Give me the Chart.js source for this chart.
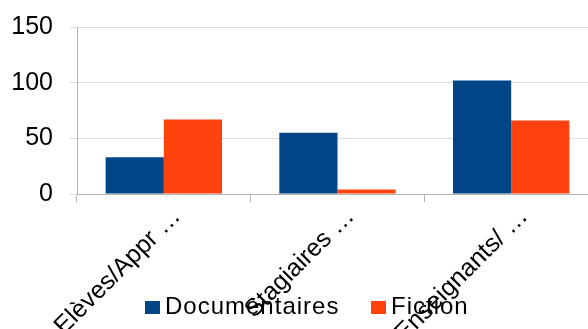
<!DOCTYPE html>
<html>
<head>
<meta charset="utf-8">
<script src="https://cdn.jsdelivr.net/npm/chart.js@4"></script>
<style>
  body { margin: 0; overflow: hidden; background: #fff; }
  #wrap { position: relative; width: 588px; height: 329px; overflow: hidden; }
  #box { position: absolute; left: 0; top: 0; width: 598px; height: 329px; }
  #legend { position: absolute; top: 289px; left: 0; width: 588px; height: 34px;
    font-family: "Liberation Sans", Arial, sans-serif; font-size: 24px; letter-spacing: 1px; color: #000; }
  .item { position: absolute; top: 0; line-height: 34px; white-space: nowrap; }
  .sw { display: inline-block; width: 15px; height: 13px; margin-right: 5px; vertical-align: 0px; }
</style>
</head>
<body>
<div id="wrap">
  <div id="box"><canvas id="chart" width="598" height="329"></canvas></div>
  <div id="legend"></div>
</div>
<script>
const categories = ["Elèves/Appr …", "Stagiaires …", "Enseignants/ …"];
const documentaires = [33, 55, 102];
const fiction = [67, 4, 66];
const yTicks = [0, 50, 100, 150];

const blue = "#004586";
const orange = "#ff420e";

const ctx = document.getElementById("chart").getContext("2d");

const chart = new Chart(ctx, {
  type: "bar",
  data: {
    labels: categories,
    datasets: [
      { label: "Documentaires", data: documentaires, backgroundColor: blue },
      { label: "Fiction", data: fiction, backgroundColor: orange },
    ],
  },
  options: {
    responsive: false,
    animation: false,
    datasets: { bar: { categoryPercentage: 0.67, barPercentage: 1.0 } },
    layout: { padding: { left: 12, top: 27, right: 0, bottom: 0 } },
    plugins: { legend: { display: false }, tooltip: { enabled: false } },
    scales: {
      x: {
        grid: { display: true, drawOnChartArea: false, tickLength: 8, color: "#b3b3b3" },
        border: { color: "#b3b3b3" },
        ticks: {
          color: "#000",
          font: { family: "Liberation Sans", size: 25 },
          minRotation: 45,
          maxRotation: 45,
          autoSkip: false,
          padding: 0,
          labelOffset: 13,
        },
        afterFit: (scale) => {
          scale.height = 135;
          scale.paddingLeft = 0;
          scale.paddingRight = 0;
        },
      },
      y: {
        min: 0,
        max: 150,
        afterBuildTicks: (scale) => { scale.ticks = yTicks.map((v) => ({ value: v })); },
        grid: { color: "#dddddd", tickLength: 7 },
        border: { color: "#b3b3b3" },
        ticks: {
          color: "#000",
          font: { family: "Liberation Sans", size: 25 },
          padding: 17,
        },
        afterFit: (scale) => {
          scale.width = 65;
          scale.paddingTop = 0;
          scale.paddingBottom = 0;
        },
      },
    },
  },
});

// legend drawn over the axis labels, like the original
const legend = document.getElementById("legend");
const legendPos = [145, 371];
chart.data.datasets.forEach((ds, i) => {
  const it = document.createElement("div");
  it.className = "item";
  it.style.left = legendPos[i] + "px";
  it.innerHTML = '<span class="sw" style="background:' + ds.backgroundColor + '"></span>' + ds.label;
  legend.appendChild(it);
});
</script>
</body>
</html>
